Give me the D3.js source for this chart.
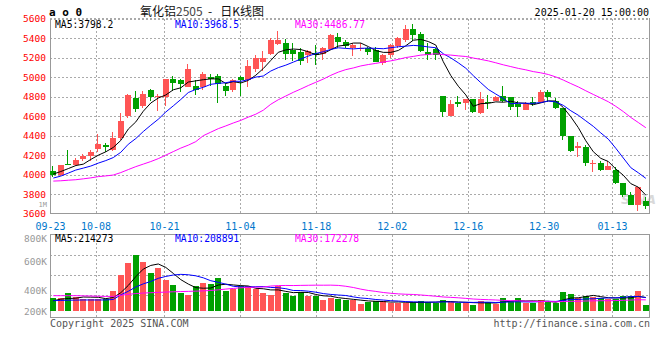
<!DOCTYPE html>
<html>
<head>
<meta charset="utf-8">
<script src="https://cdn.jsdelivr.net/npm/d3@7"></script>
<style>
body { margin: 0; background: #fff; }
text { font-family: "DejaVu Sans Mono", monospace; }
</style>
</head>
<body>
<svg id="chart" width="660" height="360"></svg>
<script>
// daily bars, 09-23 .. 01-20
var dates = ["09-23","09-24","09-25","09-26","09-27","09-30",
  "10-08","10-09","10-10","10-11","10-14","10-15","10-16","10-17","10-18","10-21","10-22","10-23","10-24","10-25","10-28","10-29","10-30","10-31",
  "11-01","11-04","11-05","11-06","11-07","11-08","11-11","11-12","11-13","11-14","11-15","11-18","11-19","11-20","11-21","11-22","11-25","11-26","11-27","11-28","11-29",
  "12-02","12-03","12-04","12-05","12-06","12-09","12-10","12-11","12-12","12-13","12-16","12-17","12-18","12-19","12-20","12-23","12-24","12-25","12-26","12-27","12-30","12-31",
  "01-02","01-03","01-06","01-07","01-08","01-09","01-10","01-13","01-14","01-15","01-16","01-17","01-20"];

var open  = [4043,4000,4115,4104,4165,4189,4268,4308,4254,4377,4600,4789,4700,4871,4797,4796,4983,4973,4899,4912,
             4899,4997,5014,4912,4871,5000,4966,5083,5154,5236,5338,5348,5273,5253,5229,5246,5236,5290,5410,5358,
             5297,5300,5297,5280,5144,5222,5314,5382,5495,5443,5256,5290,4810,4605,4741,4731,4776,4629,4748,4758,
             4810,4799,4725,4663,4748,4741,4843,4758,4684,4400,4271,4281,4117,4122,4053,4053,3913,3797,3685,3729];
var high  = [4088,4100,4255,4172,4213,4257,4421,4322,4434,4628,4825,4858,4860,4881,4830,4980,5007,4978,5137,4966,
             5052,5031,5031,4939,4983,5007,5178,5222,5270,5399,5477,5392,5348,5297,5275,5331,5310,5440,5450,5382,
             5348,5348,5311,5307,5235,5340,5406,5536,5546,5461,5348,5303,4810,4769,4810,4776,4780,4843,4820,4810,
             4912,4800,4758,4748,4792,4868,4871,4786,4684,4400,4332,4308,4155,4145,4145,4077,3920,3821,3872,3770];
var low   = [3980,3985,4100,4087,4145,4138,4234,4234,4240,4360,4578,4643,4684,4758,4656,4700,4853,4843,4895,4820,
             4871,4905,4735,4802,4848,4802,4895,5052,5065,5230,5331,5178,5160,5127,5144,5127,5178,5280,5297,5303,
             5211,5270,5229,5150,5127,5195,5300,5358,5372,5256,5178,5171,4588,4600,4690,4663,4629,4625,4674,4751,
             4741,4663,4595,4660,4707,4731,4741,4674,4360,4230,4186,4087,4025,4036,4050,3907,3770,3685,3627,3651];
var close = [3995,4095,4108,4148,4196,4237,4312,4281,4373,4554,4820,4677,4830,4792,4810,4976,4942,4932,5086,4871,
             5035,4985,4929,4853,4966,4966,5116,5195,5195,5382,5382,5239,5239,5168,5270,5226,5303,5433,5355,5321,
             5331,5303,5253,5150,5229,5331,5400,5495,5433,5270,5222,5222,4639,4725,4725,4776,4639,4776,4741,4799,
             4758,4690,4690,4725,4725,4850,4792,4684,4393,4247,4298,4117,4124,4053,4087,3913,3797,3695,3872,3678];
// volume, thousands
var volume = [198,198,285,223,187,187,187,180,312,562,753,874,769,597,675,484,406,285,250,395,
              441,421,519,312,339,390,390,339,276,250,390,276,239,301,239,234,172,207,187,172,
              172,109,145,156,156,129,120,120,145,156,145,120,172,145,120,120,94,156,145,109,
              198,156,198,120,120,172,145,129,296,265,198,234,223,198,182,182,234,234,312,94];

// moving-average values before enough bars exist
var ma5Head  = [4007,4033,4063,4094];
var ma10Head = [3966,3986,4017,4048,4068,4089,4119,4145,4176];
var ma30Head = [3935,3938,3944,3949,3958,3968,3981,3988,3997,4022,4053,4083,4109,4135,4165,4201,4237,4273,4303,4339,
                4400,4436,4472,4500,4530,4557,4590,4620,4661];
var vma5Head  = [160,185,195,200];
var vma10Head = [161,165,168,170,172,172,172,172,180];
var vma30Head = [239,239,239,239,236,234,230,228,228,245,260,272,280,285,290,295,300,303,306,310,
                 314,320,330,342,352,362,368,372,374];

var priceTicks = [3600,3800,4000,4200,4400,4600,4800,5000,5200,5400,5600];
var dateTicks = ["09-23","10-08","10-21","11-04","11-18","12-02","12-16","12-30","01-13"];
var volTicks = ["800K","600K","400K","200K"];
var maLabels = ["MA5:3798.2","MA10:3968.5","MA30:4486.77"];
var volMaLabels = ["MA5:214273","MA10:208891","MA30:172278"];
var maColors = ["#000000","#0000ff","#ff00ff"];

var up = "#ff5555", down = "#00a000", gridColor = "#aaaaaa", frame = "#999999";

function movingAvg(arr, n, head) {
  return arr.map(function(v, i) {
    if (i < n - 1) return head[i];
    return d3.mean(arr.slice(i - n + 1, i + 1));
  });
}

var svg = d3.select('#chart');

// scales
var xCandle = d3.scaleLinear().domain([0, 80]).range([50.3, 650.3]);
var xGrid = d3.scaleLinear().domain([0, 79]).range([50, 650]);
var yPrice = d3.scaleLinear().domain([3600, 5600]).range([213.8, 18.5]);
var yVol = d3.scaleLinear().domain([0, 1000]).range([311, 311 - 1000 / 15.6]);
var barW = 6;

var tickIdx = dateTicks.map(function(d){ return dates.indexOf(d); });

// ---------- price panel grid ----------
var grid = svg.append('g').attr('shape-rendering', 'crispEdges');
grid.selectAll('line.h').data(priceTicks.slice(1)).enter().append('line')
  .attr('x1', 50).attr('x2', 650)
  .attr('y1', function(d){ return Math.round(yPrice(d)) + 0.5; })
  .attr('y2', function(d){ return Math.round(yPrice(d)) + 0.5; })
  .attr('stroke', gridColor).attr('stroke-dasharray', '2,2');
grid.selectAll('line.v').data(tickIdx.slice(1)).enter().append('line')
  .attr('x1', function(i){ return Math.round(xGrid(i)) + 0.5; })
  .attr('x2', function(i){ return Math.round(xGrid(i)) + 0.5; })
  .attr('y1', 18.5).attr('y2', 213.8)
  .attr('stroke', gridColor).attr('stroke-dasharray', '2,2');

// ---------- volume panel grid ----------
var volGridY = [255.5, 275.5, 295.5];
grid.selectAll('line.vh').data(volGridY).enter().append('line')
  .attr('x1', 50).attr('x2', 650)
  .attr('y1', function(d){ return d; }).attr('y2', function(d){ return d; })
  .attr('stroke', gridColor).attr('stroke-dasharray', '2,2');
grid.selectAll('line.vv').data(tickIdx.slice(1)).enter().append('line')
  .attr('x1', function(i){ return Math.round(xGrid(i)) + 0.5; })
  .attr('x2', function(i){ return Math.round(xGrid(i)) + 0.5; })
  .attr('y1', 234.5).attr('y2', 317.5)
  .attr('stroke', gridColor).attr('stroke-dasharray', '2,2');

// watermark
svg.append('text').attr('x', 621).attr('y', 204).text('SINA')
  .attr('font-size', '13px').attr('font-weight', 'bold').attr('font-style', 'italic')
  .style('font-family', 'DejaVu Sans, sans-serif')
  .attr('fill', '#bbbbbb').attr('opacity', 0.55);

// frames
var fr = svg.append('g').attr('stroke', frame).attr('fill', 'none').attr('shape-rendering', 'crispEdges');
fr.append('line').attr('x1', 50.5).attr('x2', 50.5).attr('y1', 18).attr('y2', 214);
fr.append('line').attr('x1', 649.5).attr('x2', 649.5).attr('y1', 18).attr('y2', 214);
fr.append('line').attr('x1', 50).attr('x2', 650).attr('y1', 213.5).attr('y2', 213.5);
fr.append('line').attr('x1', 50).attr('x2', 650).attr('y1', 18.5).attr('y2', 18.5)
  .attr('stroke', gridColor).attr('stroke-dasharray', '2,2');
fr.append('rect').attr('x', 50.5).attr('y', 234.5).attr('width', 599).attr('height', 83);

// ---------- candles ----------
var idx = d3.range(dates.length);
var candles = svg.append('g').attr('shape-rendering', 'crispEdges');
var cg = candles.selectAll('g').data(idx).enter().append('g');
cg.append('line')
  .attr('x1', function(i){ return Math.round(xCandle(i)) + 2.5; })
  .attr('x2', function(i){ return Math.round(xCandle(i)) + 2.5; })
  .attr('y1', function(i){ return yPrice(high[i]); })
  .attr('y2', function(i){ return yPrice(low[i]); })
  .attr('stroke', function(i){ return close[i] >= open[i] ? up : down; });
cg.append('rect')
  .attr('x', function(i){ return Math.round(xCandle(i)); })
  .attr('width', barW)
  .attr('y', function(i){ return yPrice(Math.max(open[i], close[i])); })
  .attr('height', function(i){ return Math.max(1, Math.abs(yPrice(open[i]) - yPrice(close[i]))); })
  .attr('fill', function(i){ return close[i] >= open[i] ? up : down; });

// ---------- price moving averages ----------
var maSeries = [movingAvg(close, 5, ma5Head), movingAvg(close, 10, ma10Head), movingAvg(close, 30, ma30Head)];
var priceLine = d3.line()
  .x(function(d, i){ return xCandle(i) + 3; })
  .y(function(d){ return yPrice(d); });
svg.append('g').selectAll('path').data(maSeries).enter().append('path')
  .attr('d', priceLine)
  .attr('fill', 'none')
  .attr('stroke', function(d, k){ return maColors[k]; })
  .attr('stroke-width', 1);

// ---------- volume bars ----------
svg.append('g').attr('shape-rendering', 'crispEdges')
  .selectAll('rect').data(idx).enter().append('rect')
  .attr('x', function(i){ return Math.round(xCandle(i)); })
  .attr('width', barW)
  .attr('y', function(i){ return yVol(volume[i]); })
  .attr('height', function(i){ return yVol(0) - yVol(volume[i]); })
  .attr('fill', function(i){ return close[i] >= open[i] ? up : down; });

var vmaSeries = [movingAvg(volume, 5, vma5Head), movingAvg(volume, 10, vma10Head), movingAvg(volume, 30, vma30Head)];
var volLine = d3.line()
  .x(function(d, i){ return xCandle(i) + 3; })
  .y(function(d){ return yVol(d); });
svg.append('g').selectAll('path').data(vmaSeries).enter().append('path')
  .attr('d', volLine)
  .attr('fill', 'none')
  .attr('stroke', function(d, k){ return maColors[k]; })
  .attr('stroke-width', 1);

// ---------- axes ----------
var yAxis = svg.append('g').attr('transform', 'translate(50,0)')
  .call(d3.axisLeft(yPrice).tickValues(priceTicks).tickSize(0).tickPadding(4).tickFormat(d3.format('d')));
yAxis.select('.domain').remove();
yAxis.attr('font-family', '"DejaVu Sans Mono", monospace').attr('font-size', 9.5);
yAxis.selectAll('text').attr('fill', '#ff0000');

var xAxis = svg.append('g').attr('transform', 'translate(0,213.8)')
  .call(d3.axisBottom(xGrid).tickValues(tickIdx).tickSize(0).tickPadding(9.5)
    .tickFormat(function(i){ return dates[i]; }));
xAxis.select('.domain').remove();
xAxis.attr('font-family', '"DejaVu Sans Mono", monospace').attr('font-size', 10);
xAxis.selectAll('text').attr('fill', '#0077cc');

// volume axis labels
var volLabelY = [241.5, 265, 294, 314.5];
svg.append('g').selectAll('text').data(volTicks).enter().append('text')
  .attr('x', 47).attr('y', function(d, k){ return volLabelY[k]; })
  .attr('text-anchor', 'end').attr('font-size', '9.5px').attr('fill', '#999999')
  .text(function(d){ return d; });
svg.append('text').attr('x', 47).attr('y', 206.5).attr('text-anchor', 'end')
  .attr('font-size', '7px').attr('fill', '#999999').text('1M');

// ---------- header texts ----------
var maX = [55, 175, 295];
svg.append('g').selectAll('text').data(maLabels).enter().append('text')
  .attr('x', function(d, k){ return maX[k]; }).attr('y', 27.5)
  .attr('font-size', '9.7px').attr('fill', function(d, k){ return maColors[k]; })
  .text(function(d){ return d; });
svg.append('g').selectAll('text').data(volMaLabels).enter().append('text')
  .attr('x', function(d, k){ return maX[k]; }).attr('y', 241.5)
  .attr('font-size', '9.7px').attr('fill', function(d, k){ return maColors[k]; })
  .text(function(d){ return d; });

svg.append('text').attr('x', 49).attr('y', 16).attr('font-size', '11px').attr('font-weight', 'bold')
  .attr('fill', '#000').text('a o 0');
var title = svg.append('text').attr('x', 140).attr('y', 15.5).attr('font-size', '12px').attr('fill', '#111')
  .style('font-family', '"Noto Sans CJK SC", sans-serif').style('white-space', 'pre');
title.append('tspan').text('氧化铝');
title.append('tspan').attr('fill', '#444').text('2505');
title.append('tspan').text('  -   日K线图');
svg.append('text').attr('x', 649).attr('y', 16).attr('text-anchor', 'end')
  .attr('font-size', '10px').attr('fill', '#000').text('2025-01-20 15:00:00');

svg.append('text').attr('x', 50).attr('y', 327).attr('font-size', '10px').attr('fill', '#555')
  .text('Copyright 2025 SINA.COM');
svg.append('text').attr('x', 650).attr('y', 327).attr('text-anchor', 'end')
  .attr('font-size', '10px').attr('fill', '#555').text('http://finance.sina.com.cn');
</script>
</body>
</html>
